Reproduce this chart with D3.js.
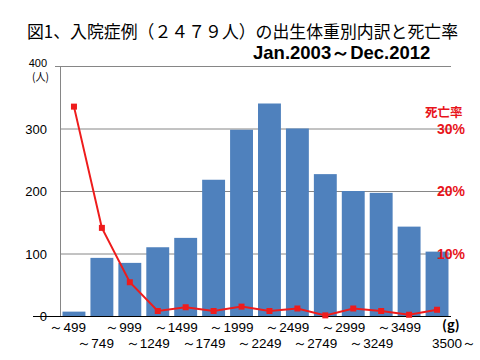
<!DOCTYPE html>
<html><head><meta charset="utf-8">
<script src="https://cdn.jsdelivr.net/npm/d3@7"></script>
<style>body{margin:0;background:#fff;}svg{display:block;}</style>
</head><body>
<svg id="c" width="480" height="360"></svg>
<script>
const categories = ["～499","～749","～999","～1249","～1499","～1749","～1999","～2249","～2499","～2749","～2999","～3249","～3499","3500～"];
const cases = [7, 93, 85, 110, 125, 218, 298, 340, 300, 227, 200, 197, 143, 103];
const mortality = [33.5, 14.1, 5.4, 0.8, 1.4, 0.8, 1.5, 0.8, 1.2, 0.1, 1.2, 0.8, 0.2, 1.0];
const leftTicks = [0, 100, 200, 300, 400];
const rightTicks = [10, 20, 30];

const svg = d3.select("#c");
const L = 60, R = 451, T = 66, B = 316;
const x = d3.scaleBand().domain(categories).range([L, R]).paddingInner(0.18).paddingOuter(0.09);
const y = d3.scaleLinear().domain([0, 400]).range([B, T]);
const y2 = d3.scaleLinear().domain([0, 40]).range([B, T]);
const numFont = "'Liberation Sans', Arial, sans-serif";
const jpFont = "'Noto Sans CJK JP', sans-serif";

// title
svg.append("text").attr("x", 27).attr("y", 38).attr("font-family", jpFont).attr("font-size", 17.5)
  .attr("textLength", 431).attr("lengthAdjust", "spacingAndGlyphs").attr("fill", "#000")
  .text("図1、入院症例（２４７９人）の出生体重別内訳と死亡率");
svg.append("text").attr("x", 253).attr("y", 59).attr("font-family", numFont).attr("font-weight", "bold")
  .attr("font-size", 18.5).text("Jan.2003～Dec.2012");

// gridlines
svg.append("g").selectAll("line").data(leftTicks.filter(d => d > 0)).join("line")
  .attr("x1", L).attr("x2", R).attr("y1", d => y(d) + 0.5).attr("y2", d => y(d) + 0.5)
  .attr("stroke", "#868686").attr("stroke-width", 1);
svg.append("line").attr("x1", 55).attr("x2", L).attr("y1", y(400) + 0.5).attr("y2", y(400) + 0.5).attr("stroke", "#868686");
// y axis line
svg.append("line").attr("x1", L + 0.5).attr("x2", L + 0.5).attr("y1", T).attr("y2", B).attr("stroke", "#868686");

// bars
svg.append("g").selectAll("rect").data(cases).join("rect")
  .attr("x", (d, i) => x(categories[i])).attr("width", x.bandwidth())
  .attr("y", d => y(d)).attr("height", d => B - y(d)).attr("fill", "#4F81BD");

// baseline
svg.append("line").attr("x1", 33).attr("x2", R).attr("y1", B + 0.5).attr("y2", B + 0.5).attr("stroke", "#000").attr("stroke-width", 1.2);

// left tick labels
svg.append("g").selectAll("text").data(leftTicks).join("text")
  .attr("x", 47).attr("y", d => d === 400 ? 67 : y(d) + 5).attr("text-anchor", "end")
  .attr("font-family", numFont).attr("font-size", d => d === 400 ? 11 : 13).attr("fill", "#000").text(d => d);
svg.append("text").attr("x", 32).attr("y", 81).attr("font-family", jpFont).attr("font-size", 11)
  .attr("textLength", 17).attr("lengthAdjust", "spacingAndGlyphs").text("(人)");

// right axis labels
svg.append("g").selectAll("text").data(rightTicks).join("text")
  .attr("x", 437).attr("y", d => y2(d) + 5).attr("font-family", numFont).attr("font-weight", "bold")
  .attr("font-size", 14).attr("fill", "#e8141b").text(d => d + "%");
svg.append("text").attr("x", 425).attr("y", 117).attr("font-family", jpFont).attr("font-weight", "bold")
  .attr("font-size", 12.5).attr("fill", "#e8141b").text("死亡率");

// line
const cx = c => x(c) + x.bandwidth() / 2;
const line = d3.line().x((d, i) => cx(categories[i])).y(d => y2(d));
svg.append("path").datum(mortality).attr("d", line).attr("fill", "none")
  .attr("stroke", "#ee1c1c").attr("stroke-width", 2);
svg.append("g").selectAll("rect").data(mortality).join("rect")
  .attr("x", (d, i) => cx(categories[i]) - 3).attr("y", d => y2(d) - 3)
  .attr("width", 6).attr("height", 6).attr("fill", "#ee1c1c");

// x labels
svg.append("g").selectAll("text").data(categories).join("text")
  .attr("x", d => d.startsWith("～") ? cx(d) + 12 : cx(d) - 5)
  .attr("y", (d, i) => i % 2 === 0 ? 332 : 348)
  .attr("text-anchor", d => d.startsWith("～") ? "end" : "start")
  .attr("font-family", numFont).attr("font-size", 13.5).attr("fill", "#000")
  .text(d => d);
svg.append("text").attr("x", 442).attr("y", 330).attr("font-family", jpFont).attr("font-weight", "bold")
  .attr("font-size", 13).text("(g)");
</script>
</body></html>
